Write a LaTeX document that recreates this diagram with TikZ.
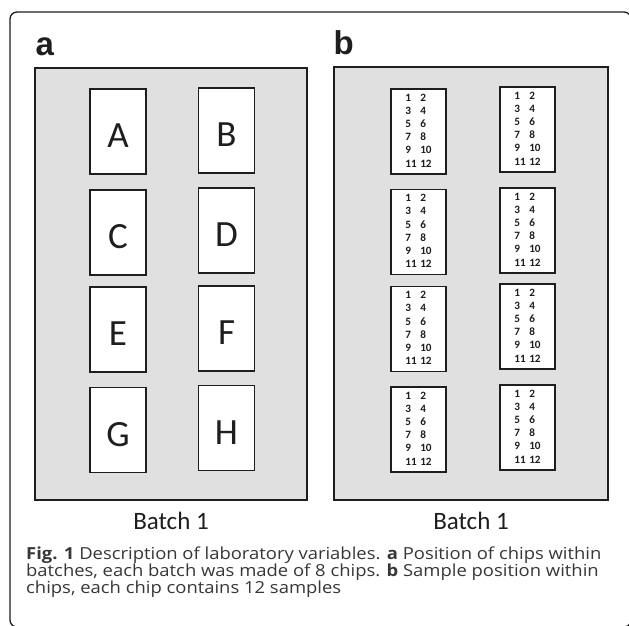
\documentclass[tikz,border=0pt]{standalone}
\usepackage{fontspec}
\setmainfont{Open Sans}
\newfontfamily\capfont{Open Sans}[FakeStretch=1.11]
\newfontfamily\calib{Carlito}
\newfontfamily\lab{Liberation Sans}
\definecolor{boxgray}{RGB}{224,224,224}
\definecolor{ink}{RGB}{30,30,30}
\definecolor{captext}{RGB}{55,55,55}
\begin{document}
\begin{tikzpicture}[x=1pt,y=-1pt,
  frame/.style={draw=ink,line width=1.3pt,rounded corners=7pt},
  batchbox/.style={draw=ink,fill=boxgray,line width=1.8pt,inner sep=0pt},
  chipa/.style={draw=ink,fill=white,line width=1.8pt,inner sep=0pt,minimum width=56pt,minimum height=85pt,
     font=\calib\fontsize{37}{37}\selectfont,text=ink,text height=32pt,text depth=0pt},
  chipb/.style={draw=ink,fill=white,line width=1.8pt,inner sep=0pt,minimum width=55pt,minimum height=85pt,
     font=\calib\bfseries\fontsize{11.2}{13.2}\selectfont,text=ink},
  panellabel/.style={font=\lab\bfseries\fontsize{33}{33}\selectfont,text=ink,inner sep=0pt,anchor=base west},
  batchlabel/.style={font=\calib\fontsize{25}{25}\selectfont,text=ink,inner sep=0pt,anchor=base},
  caption/.style={font=\capfont\fontsize{16.6}{17}\selectfont,text=captext,inner sep=0pt,anchor=base west,align=left}
]
\useasboundingbox (0,0) rectangle (629,626);
\clip (0,0) rectangle (629,626);
\fill[white] (0,0) rectangle (629,626);
\draw[frame] (10,12) rectangle (631,627);
% panel labels
\node[panellabel] (la) at (35.5,56) {a};
\node[panellabel] (lb) at (333.5,55) {b};
% batch boxes
\node[batchbox,minimum width=272pt,minimum height=432pt] (pa) at (171,284) {};
\node[batchbox,minimum width=274pt,minimum height=433pt] (pb) at (471,283.5) {};
% chips panel a
\node[chipa] (cA) at (118,131.5) {A};
\node[chipa] (cB) at (226.5,130.5) {B};
\node[chipa] (cC) at (118,232.5) {C};
\node[chipa] (cD) at (226.5,230.5) {D};
\node[chipa] (cE) at (118,329.5) {E};
\node[chipa] (cF) at (226.5,328.5) {F};
\node[chipa] (cG) at (118,430) {G};
\node[chipa] (cH) at (226.5,428) {H};
% chips panel b
\newcommand{\samples}{\begin{tabular}{@{}l@{\hspace{3.5pt}}l@{}}1&2\\3&4\\5&6\\7&8\\9&10\\11&12\end{tabular}}
\node[chipb] (s1) at (418.5,131.5) {\samples};
\node[chipb] (s2) at (527.5,129.5) {\samples};
\node[chipb] (s3) at (418.5,232) {\samples};
\node[chipb] (s4) at (527.5,230.5) {\samples};
\node[chipb] (s5) at (418.5,329) {\samples};
\node[chipb] (s6) at (527.5,326.5) {\samples};
\node[chipb] (s7) at (418.5,429.5) {\samples};
\node[chipb] (s8) at (527.5,427.5) {\samples};
% batch labels
\node[batchlabel] (ba) at (171,529) {Batch 1};
\node[batchlabel] (bb) at (471,529) {Batch 1};
% caption (anchored at the baseline of its last line)
\node[caption] (cap) at (26,593) {\textbf{Fig. 1} Description of laboratory variables. \textbf{a} Position of chips within\\
batches, each batch was made of 8 chips. \textbf{b} Sample position within\\
chips, each chip contains 12 samples};
\end{tikzpicture}
\end{document}
